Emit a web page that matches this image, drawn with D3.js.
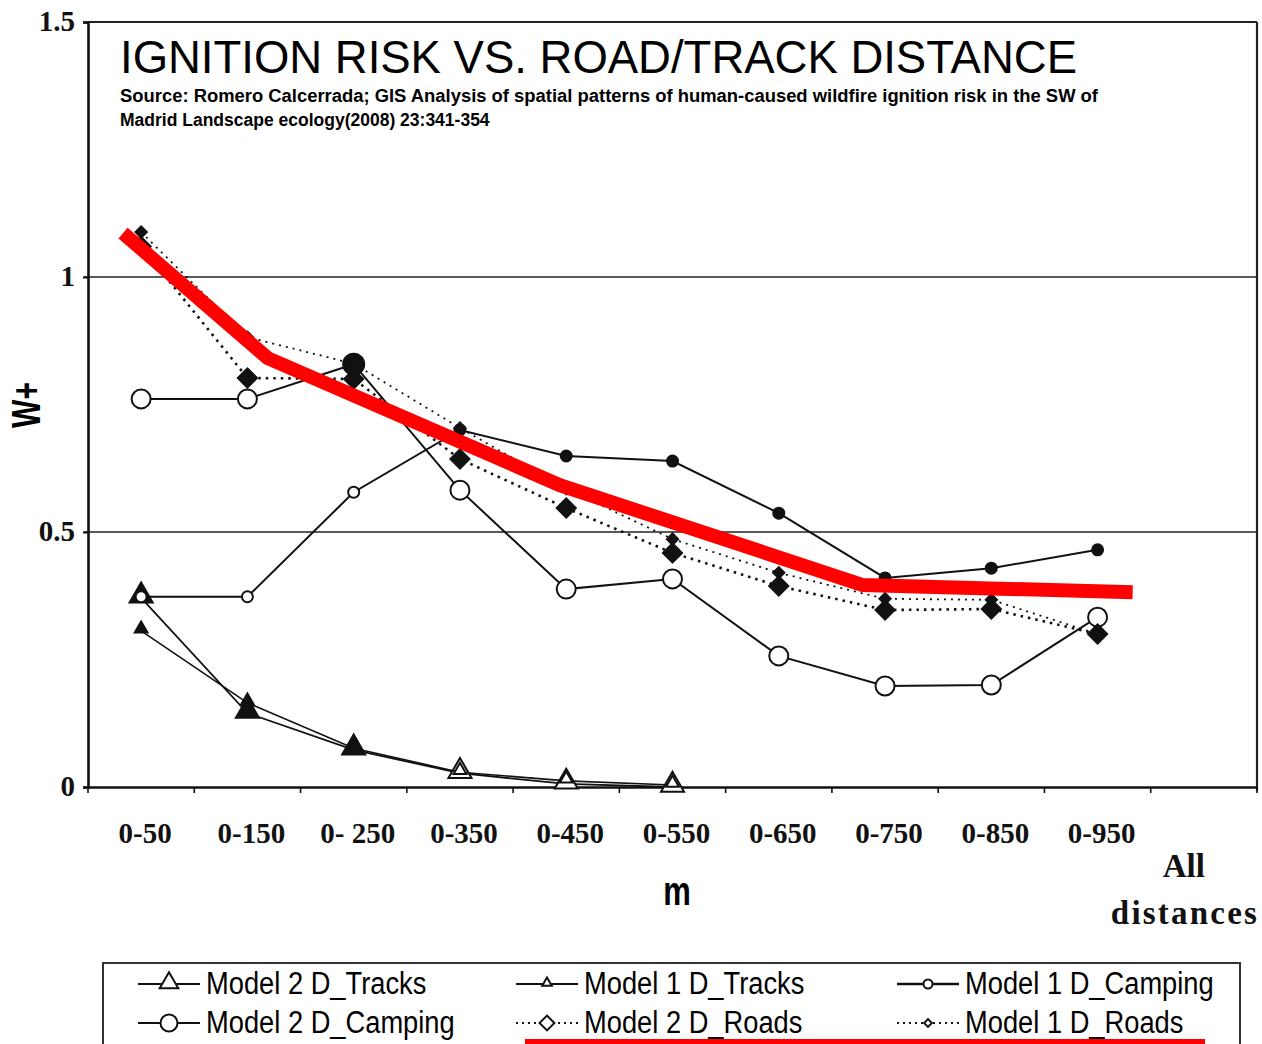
<!DOCTYPE html>
<html>
<head>
<meta charset="utf-8">
<script src="https://cdn.jsdelivr.net/npm/d3@7"></script>
<style>
body { margin:0; background:#fff; }
svg { display:block; background:#fff; }
.serif { font-family:"Liberation Serif","Times New Roman",serif; font-weight:bold; fill:#111; }
.sans { font-family:"Liberation Sans",Arial,sans-serif; fill:#000; }
</style>
</head>
<body>
<svg id="chart" width="1262" height="1044"></svg>
<script>
// distance classes (m)
var categories = ["0-50", "0-150", "0- 250", "0-350", "0-450", "0-550", "0-650", "0-750", "0-850", "0-950", "All distances"];
var yTicks = [0, 0.5, 1, 1.5];

// W+ values
var m2Tracks  = [0.371, 0.145, 0.073, 0.027, 0.006, 0.000];
var m1Tracks  = [0.306, 0.165, 0.076, 0.029, 0.012, 0.004];
var m1Camping = [0.373, 0.373, 0.578, 0.700, 0.649, 0.639, 0.537, 0.410, 0.429, 0.465];
var m2Camping = [0.761, 0.761, 0.829, 0.582, 0.388, 0.408, 0.257, 0.198, 0.200, 0.333];
var m2Roads   = [1.060, 0.802, 0.800, 0.643, 0.547, 0.459, 0.394, 0.347, 0.349, 0.300];
var m1Roads   = [1.088, 0.882, 0.830, 0.704, 0.585, 0.486, 0.420, 0.369, 0.367, 0.300];

// red trend overlay (position in category units, value)
var trendPos = [-0.17, 1.19, 3.94, 6.79, 9.33];
var trendVal = [1.086, 0.841, 0.592, 0.396, 0.382];

var svg = d3.select("#chart");
var mLeft = 88, mRight = 1257, mTop = 22, mBottom = 787;

var x = d3.scaleBand().domain(categories).range([mLeft, mRight]).paddingInner(0).paddingOuter(0);
var bw = x.bandwidth();
var y = d3.scaleLinear().domain([0, 1.5]).range([mBottom, mTop]);
var xi = d3.scaleLinear().domain([0, 1]).range([x(categories[0]) + bw / 2, x(categories[1]) + bw / 2]);

// grid lines
svg.append("g").selectAll("line").data([0.5, 1]).enter().append("line")
  .attr("x1", mLeft - 4).attr("x2", mRight).attr("y1", function(d){ return y(d); }).attr("y2", function(d){ return y(d); })
  .attr("stroke", "#222").attr("stroke-width", 1.6);

// frame top / right
svg.append("line").attr("x1", mLeft).attr("x2", mRight).attr("y1", y(1.5)).attr("y2", y(1.5)).attr("stroke", "#222").attr("stroke-width", 2);
svg.append("line").attr("x1", mRight).attr("x2", mRight).attr("y1", y(1.5)).attr("y2", mBottom + 4).attr("stroke", "#222").attr("stroke-width", 2.2);

// y axis
var yAxis = svg.append("g").attr("transform", "translate(" + mLeft + ",0)")
  .call(d3.axisLeft(y).tickValues(yTicks).tickFormat(d3.format("")).tickSize(5).tickPadding(8));
yAxis.select(".domain").attr("stroke", "#111").attr("stroke-width", 2.6);
yAxis.selectAll(".tick line").attr("stroke", "#111").attr("stroke-width", 2);
yAxis.selectAll("text").attr("class", "serif").style("font-size", "29px").attr("fill", "#111").attr("dy", "0.3em");

// x axis
var xAxis = svg.append("g").attr("transform", "translate(0," + mBottom + ")")
  .call(d3.axisBottom(x).tickSize(0).tickSizeOuter(0).tickPadding(0));
xAxis.select(".domain").attr("stroke", "#111").attr("stroke-width", 2.6);
xAxis.selectAll("text").attr("class", "serif").style("font-size", "29px").attr("fill", "#111")
  .attr("dx", 4).attr("y", 56).attr("dy", 0);
xAxis.selectAll(".tick").filter(function(d){ return d === "All distances"; }).select("text")
  .text(null).attr("dx", 0).attr("y", 0)
  .call(function(t){
    t.append("tspan").attr("x", -20).attr("y", 90).style("font-size", "33px").text("All");
    t.append("tspan").attr("x", -20).attr("y", 137).style("font-size", "33px")
      .attr("textLength", 146).attr("lengthAdjust", "spacing").text("distances");
  });
// boundary ticks
var edges = categories.map(function(c){ return x(c); }).concat([mRight]);
svg.append("g").selectAll("line").data(edges).enter().append("line")
  .attr("x1", function(d){ return d; }).attr("x2", function(d){ return d; })
  .attr("y1", mBottom).attr("y2", mBottom + 6).attr("stroke", "#111").attr("stroke-width", 1.6);

// axis titles
svg.append("text").attr("class", "sans").attr("transform", "translate(40,405) rotate(-90) scale(1,1.35)")
  .attr("text-anchor", "middle").style("font-size", "30px").style("font-weight", "bold").text("W+");
svg.append("text").attr("class", "sans").attr("transform", "translate(677,905) scale(1,1.3)")
  .attr("text-anchor", "middle").style("font-size", "31px").style("font-weight", "bold").text("m");

// title block
svg.append("text").attr("class", "sans").attr("x", 120).attr("y", 73).style("font-size", "46px")
  .attr("textLength", 957).attr("lengthAdjust", "spacingAndGlyphs").text("IGNITION RISK VS. ROAD/TRACK DISTANCE");
svg.append("text").attr("class", "sans").attr("x", 120).attr("y", 102).style("font-size", "17.5px").style("font-weight", "bold")
  .attr("textLength", 978).attr("lengthAdjust", "spacingAndGlyphs")
  .text("Source: Romero Calcerrada; GIS Analysis of spatial patterns of human-caused wildfire ignition risk in the SW of");
svg.append("text").attr("class", "sans").attr("x", 120).attr("y", 126).style("font-size", "17.5px").style("font-weight", "bold")
  .text("Madrid Landscape ecology(2008) 23:341-354");

// series
var tri = function(s){ return d3.symbol().type(d3.symbolTriangle).size(s)(); };
var dia = function(s){ return d3.symbol().type(d3.symbolSquare).size(s)(); };
var series = [
  { name: "Model 2 D_Tracks", values: m2Tracks, dash: null, lw: 1.8, shape: "tri", size: 230, fill: function(i){ return i < 3 ? "#111" : "#fff"; } },
  { name: "Model 1 D_Tracks", values: m1Tracks, dash: null, lw: 1.6, shape: "tri", size: 70, fill: function(i){ return i < 3 ? "#111" : "#fff"; } },
  { name: "Model 1 D_Camping", values: m1Camping, dash: null, lw: 2, shape: "circle", r: 5.5, fill: function(i){ return i < 3 ? "#fff" : "#111"; } },
  { name: "Model 2 D_Camping", values: m2Camping, dash: null, lw: 2, shape: "circle", r: 9.5, fill: function(i){ return i === 2 ? "#111" : "#fff"; } },
  { name: "Model 2 D_Roads", values: m2Roads, dash: "2.5,5", lw: 2.6, shape: "dia", size: 210, fill: function(){ return "#111"; } },
  { name: "Model 1 D_Roads", values: m1Roads, dash: "2,5", lw: 1.8, shape: "dia", size: 80, fill: function(){ return "#111"; } }
];

var line = d3.line().x(function(d, i){ return x(categories[i]) + bw / 2; }).y(function(d){ return y(d); });

series.forEach(function(s){
  var g = svg.append("g");
  g.append("path").attr("d", line(s.values)).attr("fill", "none").attr("stroke", "#111")
    .attr("stroke-width", s.lw).attr("stroke-dasharray", s.dash);
  var m = g.selectAll(".mk").data(s.values).enter();
  if (s.shape === "circle") {
    m.append("circle").attr("cx", function(d, i){ return x(categories[i]) + bw / 2; }).attr("cy", function(d){ return y(d); })
      .attr("r", function(d, i){ return (s.name === "Model 2 D_Camping" && i === 2) ? 10.5 : s.r; })
      .attr("fill", function(d, i){ return s.fill(i); }).attr("stroke", "#111").attr("stroke-width", 2);
  } else {
    m.append("path")
      .attr("d", s.shape === "tri" ? tri(s.size) : dia(s.size))
      .attr("transform", function(d, i){
        return "translate(" + (x(categories[i]) + bw / 2) + "," + (y(d) - (s.shape === "tri" ? 2 : 0)) + ")" + (s.shape === "dia" ? " rotate(45)" : "");
      })
      .attr("fill", function(d, i){ return s.fill(i); }).attr("stroke", "#111").attr("stroke-width", s.shape === "tri" ? 2 : 1);
  }
});

// red trend line
var trend = d3.line().x(function(d){ return xi(d[0]); }).y(function(d){ return y(d[1]); });
svg.append("path").attr("d", trend(d3.zip(trendPos, trendVal))).attr("fill", "none")
  .attr("stroke", "#ff0000").attr("stroke-width", 14).attr("stroke-linejoin", "miter").attr("stroke-linecap", "butt");

// legend
var lg = svg.append("g");
lg.append("rect").attr("x", 103).attr("y", 963).attr("width", 1137).attr("height", 100)
  .attr("fill", "#fff").attr("stroke", "#333").attr("stroke-width", 2);
var colX = [138, 516, 897], rowY = [984, 1023];
series.forEach(function(s, j){
  var lx = colX[j % 3], ly = rowY[Math.floor(j / 3)];
  var item = lg.append("g").attr("transform", "translate(" + lx + "," + ly + ")");
  item.append("line").attr("x1", 0).attr("x2", 62).attr("y1", 0).attr("y2", 0).attr("stroke", "#111")
    .attr("stroke-width", s.dash ? 2.2 : (s.name === "Model 1 D_Camping" ? 2.6 : 1.8)).attr("stroke-dasharray", s.dash ? "2,4" : null);
  if (s.shape === "circle") {
    item.append("circle").attr("cx", 31).attr("cy", 0).attr("r", s.r === 9.5 ? 8.5 : 4.5).attr("fill", "#fff").attr("stroke", "#111").attr("stroke-width", 2);
  } else if (s.shape === "tri") {
    item.append("path").attr("d", tri(s.size === 230 ? 150 : 40)).attr("transform", "translate(31,-1)")
      .attr("fill", "#fff").attr("stroke", "#111").attr("stroke-width", 2);
  } else {
    item.append("path").attr("d", dia(s.size === 210 ? 110 : 30)).attr("transform", "translate(31,0) rotate(45)")
      .attr("fill", "#fff").attr("stroke", "#111").attr("stroke-width", 2);
  }
  var t = item.append("text").attr("class", "sans").attr("x", 68).attr("y", 10).style("font-size", "31px").text(s.name);
  var w = t.node().getComputedTextLength();
  t.attr("textLength", w * 0.88).attr("lengthAdjust", "spacingAndGlyphs");
});
// red underline in legend
lg.append("line").attr("x1", 525).attr("x2", 1205).attr("y1", 1041.5).attr("y2", 1041.5)
  .attr("stroke", "#ff0000").attr("stroke-width", 5);
</script>
</body>
</html>
